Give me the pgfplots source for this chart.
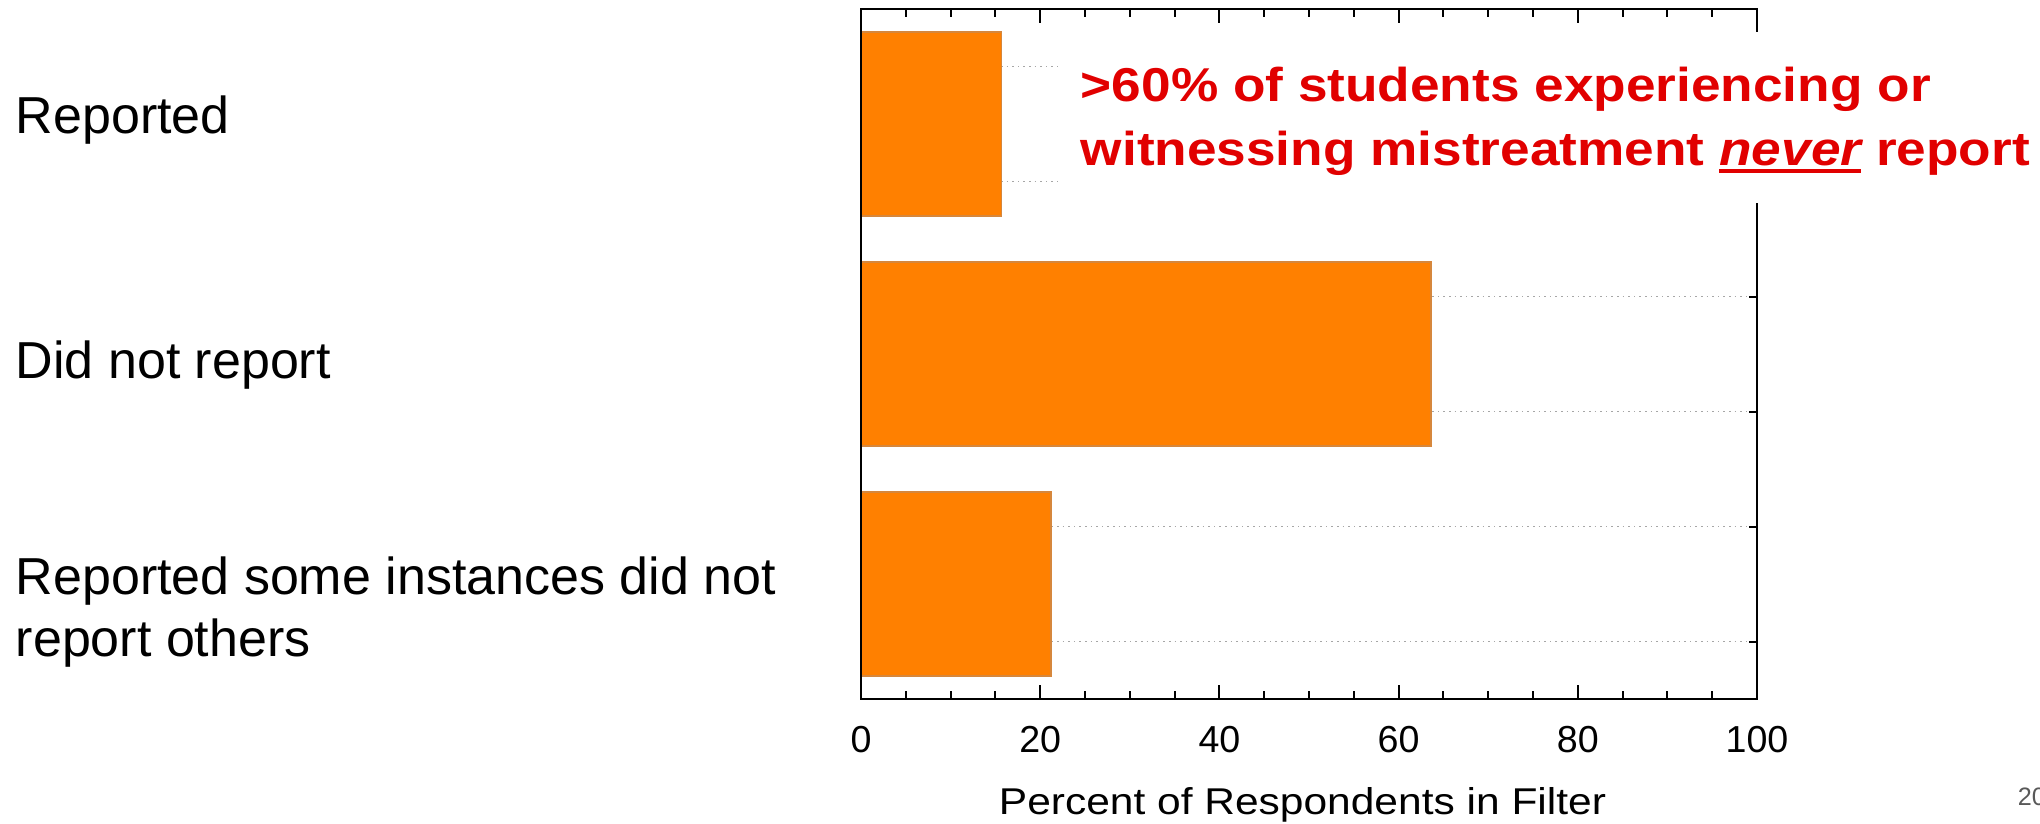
\documentclass[border=0pt]{standalone}
\usepackage{fontspec}
\setmainfont{Liberation Sans}
\newfontfamily\widefont[FakeStretch=1.14]{Liberation Sans}
\newfontfamily\notefont[FakeStretch=1.12]{Liberation Sans}
\usepackage{pgfplots}
\pgfplotsset{compat=1.18}

\definecolor{barorange}{RGB}{255,128,0}
\definecolor{baredge}{RGB}{214,135,60}
\definecolor{notered}{RGB}{225,0,0}
\definecolor{pagegray}{RGB}{89,89,89}

% underline with a fixed rule
\newcommand\ul[1]{\setbox0\hbox{#1}\rlap{\rule[-1.7pt]{\wd0}{0.9pt}}\box0\relax}

\begin{document}
\begin{tikzpicture}
% whole picture: 2040 x 823 px at 0.25pt per px
\useasboundingbox (0,0) rectangle (510pt,-205.75pt);

\begin{axis}[
    at={(215.25pt,-2.25pt)}, anchor=north west,
    scale only axis,
    width=224pt, height=172.5pt,
    xbar, bar width=0.8,
    xmin=0, xmax=100,
    ymin=0.5, ymax=3.5,
    xtick={0,20,...,100},
    minor x tick num=3,
    ytick={0.75,1.25,1.75,2.25,2.75,3.25},
    yticklabels={},
    tick pos=both,
    tick align=inside,
    major tick length=3.5pt,
    minor tick length=2pt,
    ytick style={/pgfplots/major tick length=2pt},
    tick style={black, line width=0.5pt},
    axis line style={line width=0.5pt},
    ymajorgrids,
    grid style={densely dotted, gray!70, line width=0.35pt},
    /pgf/number format/assume math mode=true,
    xticklabel style={font=\fontsize{9.4}{10}\selectfont, inner sep=0pt, yshift=-6.5pt},
    xlabel={\widefont Percent of Respondents in Filter},
    xlabel style={at={(axis description cs:0.4927,0)}, anchor=north,
                  inner sep=0pt, yshift=-22pt, font=\fontsize{9.32}{10}\selectfont},
]
\addplot[fill=barorange, draw=baredge, line width=0.4pt]
    coordinates {(15.7,3) (63.6,2) (21.2,1)};
\draw[line width=0.5pt] (rel axis cs:0,0) -- (rel axis cs:0,1);
\end{axis}

% category labels
\begin{scope}[every node/.style={anchor=base west, inner sep=0pt,
              font=\fontsize{13}{15}\selectfont}]
\node at (3.75pt,-33.5pt) {Reported};
\node at (3.75pt,-94.5pt) {Did not report};
\node at (3.75pt,-148.5pt) {Reported some instances did not};
\node at (3.75pt,-164pt) {report others};
\end{scope}

% annotation over a white box
\fill[white] (264.5pt,-8pt) rectangle (510pt,-50.75pt);
\begin{scope}[every node/.style={anchor=base west, inner sep=0pt, text=notered,
              font=\notefont\bfseries\fontsize{11.875}{14}\selectfont}]
\node at (270pt,-25.5pt) {>60\% of students experiencing or};
\node at (270pt,-41.5pt) {witnessing mistreatment \ul{\itshape never} report};
\end{scope}

% page number
\node[anchor=base west, inner sep=0pt, text=pagegray,
      font=\fontsize{6.3}{7}\selectfont] at (504.25pt,-201.25pt) {20};
\end{tikzpicture}
\end{document}
